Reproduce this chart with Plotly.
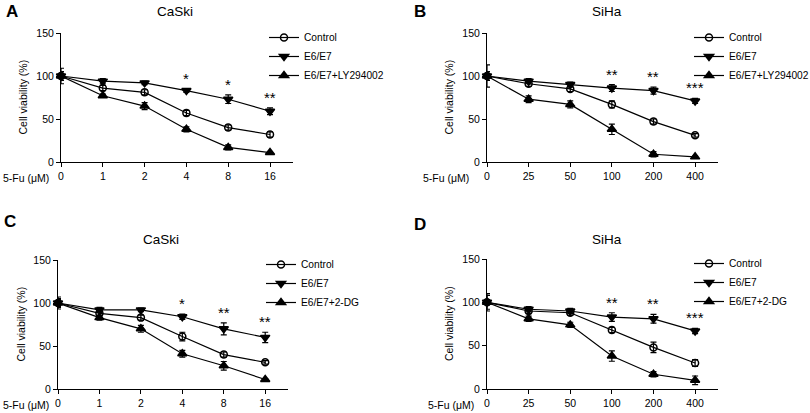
import plotly.graph_objects as go

W, H = 810, 413

# ---------------- data ----------------
series_names_ly = ["Control", "E6/E7", "E6/E7+LY294002"]
series_names_dg = ["Control", "E6/E7", "E6/E7+2-DG"]

doses_caski = ["0", "1", "2", "4", "8", "16"]
doses_siha = ["0", "25", "50", "100", "200", "400"]

# Panel A: CaSki + LY294002
a_control = [100, 86, 81, 57, 40, 32]
a_control_err = [9, 3, 3, 3, 3, 3]
a_e6e7 = [100, 94, 92, 83, 73, 59]
a_e6e7_err = [5, 3, 2, 2, 5, 4]
a_treat = [100, 77, 65, 38, 17, 11]
a_treat_err = [3, 2, 4, 3, 3, 1]
a_stars = ["", "", "", "*", "*", "**"]

# Panel B: SiHa + LY294002
b_control = [100, 91, 85, 67, 47, 31]
b_control_err = [5, 3, 3, 4, 3, 2]
b_e6e7 = [100, 94, 90, 86, 83, 71]
b_e6e7_err = [13, 3, 3, 4, 4, 3]
b_treat = [100, 73, 67, 38, 9, 6]
b_treat_err = [3, 4, 4, 6, 3, 1]
b_stars = ["", "", "", "**", "**", "***"]

# Panel C: CaSki + 2-DG
c_control = [100, 88, 83, 61, 40, 31]
c_control_err = [7, 3, 3, 5, 3, 2]
c_e6e7 = [100, 92, 92, 84, 70, 60]
c_e6e7_err = [5, 3, 2, 3, 7, 6]
c_treat = [100, 83, 70, 41, 27, 11]
c_treat_err = [4, 3, 4, 4, 5, 1]
c_stars = ["", "", "", "*", "**", "**"]

# Panel D: SiHa + 2-DG
d_control = [100, 90, 88, 68, 48, 30]
d_control_err = [8, 3, 3, 3, 6, 4]
d_e6e7 = [100, 92, 90, 83, 81, 67]
d_e6e7_err = [10, 3, 3, 5, 5, 3]
d_treat = [100, 81, 74, 38, 17, 10]
d_treat_err = [3, 3, 3, 6, 3, 5]
d_stars = ["", "", "", "**", "**", "***"]

y_ticks = [0, 50, 100, 150]

# ---------------- layout helpers ----------------
def px_x(p):
    return p / W

def px_y(p):
    return 1 - p / H

panels = [
    dict(letter="A", title="CaSki", doses=doses_caski, names=series_names_ly,
         data=[(a_control, a_control_err), (a_e6e7, a_e6e7_err), (a_treat, a_treat_err)],
         stars=a_stars, x0=61, x1=293, ytop=33, ybot=162,
         letter_xy=(12, 12), title_xy=(175, 12), legend_xy=(264, 23), fu_x=51),
    dict(letter="B", title="SiHa", doses=doses_siha, names=series_names_ly,
         data=[(b_control, b_control_err), (b_e6e7, b_e6e7_err), (b_treat, b_treat_err)],
         stars=b_stars, x0=487, x1=718, ytop=33, ybot=162,
         letter_xy=(420, 12), title_xy=(607, 12), legend_xy=(689, 23), fu_x=471),
    dict(letter="C", title="CaSki", doses=doses_caski, names=series_names_dg,
         data=[(c_control, c_control_err), (c_e6e7, c_e6e7_err), (c_treat, c_treat_err)],
         stars=c_stars, x0=58, x1=288, ytop=260, ybot=389,
         letter_xy=(10, 222), title_xy=(161, 240), legend_xy=(261, 250), fu_x=51),
    dict(letter="D", title="SiHa", doses=doses_siha, names=series_names_dg,
         data=[(d_control, d_control_err), (d_e6e7, d_e6e7_err), (d_treat, d_treat_err)],
         stars=d_stars, x0=487, x1=718, ytop=259, ybot=389,
         letter_xy=(420, 224), title_xy=(607, 239), legend_xy=(689, 249), fu_x=476),
]

symbols = ["circle-open", "triangle-down", "triangle-up"]
marker_sizes = [7, 8, 8]

fig = go.Figure()
annotations = []
layout_extra = {}
FONT = "Liberation Sans, Arial, sans-serif"

for i, p in enumerate(panels):
    n = i + 1
    xa = "x" if n == 1 else f"x{n}"
    ya = "y" if n == 1 else f"y{n}"
    leg = "legend" if n == 1 else f"legend{n}"
    xs = list(range(len(p["doses"])))
    for j, (name, (vals, errs)) in enumerate(zip(p["names"], p["data"])):
        fig.add_trace(go.Scatter(
            x=xs, y=vals, name=name, mode="lines+markers",
            xaxis=xa, yaxis=ya, legend=leg, cliponaxis=False,
            line=dict(color="black", width=1.2),
            marker=dict(symbol=symbols[j], size=marker_sizes[j], color="black",
                        line=dict(color="black", width=1.5)),
            error_y=dict(type="data", array=errs, visible=True, color="black",
                         thickness=1.2, width=3),
        ))
    # significance stars above E6/E7 series
    e_vals, e_errs = p["data"][1]
    for k, s in enumerate(p["stars"]):
        if s:
            annotations.append(dict(
                x=xs[k], y=e_vals[k] + e_errs[k], xref=xa, yref=ya,
                text=s, showarrow=False, yanchor="bottom", yshift=0,
                font=dict(family=FONT, size=15, color="black")))
    dom_x = [px_x(p["x0"]), px_x(p["x1"])]
    dom_y = [px_y(p["ybot"]), px_y(p["ytop"])]
    layout_extra["xaxis" if n == 1 else f"xaxis{n}"] = dict(
        domain=dom_x, range=[0, 5.55], anchor=ya,
        tickvals=xs, ticktext=p["doses"], ticks="outside", ticklen=4,
        tickwidth=1, tickcolor="black", showline=True, linecolor="black",
        linewidth=1, showgrid=False, zeroline=False,
        tickfont=dict(family=FONT, size=10.5, color="black"))
    layout_extra["yaxis" if n == 1 else f"yaxis{n}"] = dict(
        domain=dom_y, range=[0, 150], anchor=xa,
        tickvals=y_ticks, ticks="outside", ticklen=4, tickwidth=1,
        tickcolor="black", showline=True, linecolor="black", linewidth=1,
        showgrid=False, zeroline=False,
        tickfont=dict(family=FONT, size=10.5, color="black"))
    layout_extra[leg] = dict(
        x=px_x(p["legend_xy"][0]), y=px_y(p["legend_xy"][1]),
        xanchor="left", yanchor="top", bgcolor="rgba(0,0,0,0)",
        font=dict(family=FONT, size=10.2, color="black"),
        itemwidth=30, tracegroupgap=0)
    # panel letter
    annotations.append(dict(
        x=px_x(p["letter_xy"][0]), y=px_y(p["letter_xy"][1]), xref="paper", yref="paper",
        text=f"<b>{p['letter']}</b>", showarrow=False, xanchor="center", yanchor="middle",
        font=dict(family=FONT, size=17, color="black")))
    # panel title
    annotations.append(dict(
        x=px_x(p["title_xy"][0]), y=px_y(p["title_xy"][1]), xref="paper", yref="paper",
        text=p["title"], showarrow=False, xanchor="center", yanchor="middle",
        font=dict(family=FONT, size=13.5, color="black")))
    # y axis title
    annotations.append(dict(
        x=px_x(p["x0"] - 38), y=(dom_y[0] + dom_y[1]) / 2, xref="paper", yref="paper",
        text="Cell viability (%)", showarrow=False, textangle=-90,
        xanchor="center", yanchor="middle",
        font=dict(family=FONT, size=10.5, color="black")))
    # 5-Fu label
    annotations.append(dict(
        x=px_x(p["fu_x"]), y=px_y(p["ybot"] + 16), xref="paper", yref="paper",
        text="5-Fu (μM)", showarrow=False, xanchor="right", yanchor="middle",
        font=dict(family=FONT, size=10.5, color="black")))

fig.update_layout(
    width=W, height=H, margin=dict(l=0, r=0, t=0, b=0, autoexpand=False),
    paper_bgcolor="white", plot_bgcolor="white", hovermode=False,
    annotations=annotations, showlegend=True,
    **layout_extra)

fig.write_html("out.html", config={"displayModeBar": False},
               post_script="document.body.style.margin='0';")
